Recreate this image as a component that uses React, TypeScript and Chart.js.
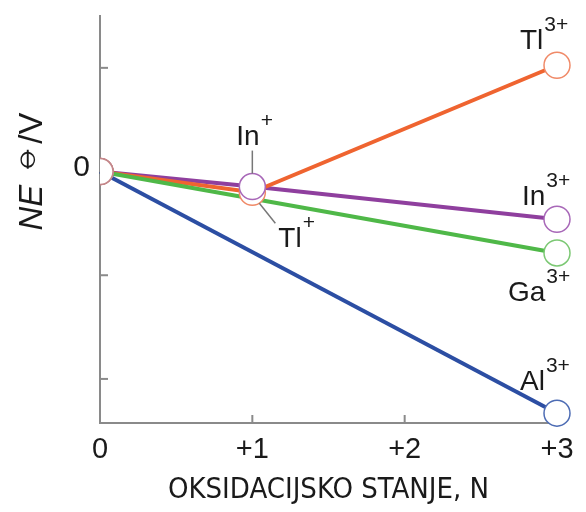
import React, { useEffect, useRef } from "react";
import { Chart, registerables } from "chart.js";

Chart.register(...registerables);

// ---- data ----
const xTickValues = [0, 1, 2, 3];
const xTickLabels = ["0", "+1", "+2", "+3"];
const xInnerTicks = [1, 2];
const yLabelTicks = [0];
const yInnerTicks = [2, -2, -4];

const alStates = [0, 3];
const alValues = [0, -4.66];
const gaStates = [0, 3];
const gaValues = [0, -1.57];
const inStates = [0, 1, 3];
const inValues = [0, -0.29, -0.92];
const tlStates = [0, 1, 3];
const tlValues = [0, -0.4, 2.05];

const seriesNames = ["Al", "Ga", "Tl", "In"];

// ---- styles ----
const AXIS_COLOR = "#8a8a8a";
const TEXT_COLOR = "#1a1a1a";
const ORIGIN_COLOR = "#c4878a";
const lineColors: Record<string, string> = {
  Al: "#2c4ea3",
  Ga: "#4fb848",
  In: "#8f3f9e",
  Tl: "#ef6430",
};
const pointColors: Record<string, string> = {
  Al: "#4d6cb4",
  Ga: "#7cc874",
  In: "#a868b8",
  Tl: "#f08a68",
};

const seriesData: Record<string, { x: number[]; y: number[] }> = {
  Al: { x: alStates, y: alValues },
  Ga: { x: gaStates, y: gaValues },
  In: { x: inStates, y: inValues },
  Tl: { x: tlStates, y: tlValues },
};

// label placement relative to the point (pixels)
const speciesLabels = [
  { series: "Tl", idx: 2, text: "Tl", sup: "3+", dx: -37, dy: -16 },
  { series: "In", idx: 2, text: "In", sup: "3+", dx: -35, dy: -14 },
  { series: "Ga", idx: 1, text: "Ga", sup: "3+", dx: -49, dy: 48 },
  { series: "Al", idx: 1, text: "Al", sup: "3+", dx: -37, dy: -23 },
  { series: "In", idx: 1, text: "In", sup: "+", dx: -16, dy: -42 },
  { series: "Tl", idx: 1, text: "Tl", sup: "+", dx: 26, dy: 55 },
];
const leaderLines = [
  { series: "In", idx: 1, x1: 0, y1: -36, x2: 0, y2: -13 },
  { series: "Tl", idx: 1, x1: 7, y1: 11, x2: 23, y2: 31 },
];

const pts = (name: string) =>
  seriesData[name].x.map((x, i) => ({ x, y: seriesData[name].y[i] }));

const annotate = {
  id: "annotate",
  afterDatasetsDraw(chart: any) {
    const ctx = chart.ctx as CanvasRenderingContext2D;
    const xs = chart.scales.x;
    const ys = chart.scales.y;
    const px = (name: string, i: number) => ({
      x: xs.getPixelForValue(seriesData[name].x[i]),
      y: ys.getPixelForValue(seriesData[name].y[i]),
    });
    ctx.save();
    // inner tick marks
    ctx.strokeStyle = AXIS_COLOR;
    ctx.lineWidth = 2;
    yInnerTicks.forEach((v) => {
      const py = ys.getPixelForValue(v);
      ctx.beginPath();
      ctx.moveTo(xs.left, py);
      ctx.lineTo(xs.left + 8, py);
      ctx.stroke();
    });
    xInnerTicks.forEach((v) => {
      const p = xs.getPixelForValue(v);
      ctx.beginPath();
      ctx.moveTo(p, ys.bottom);
      ctx.lineTo(p, ys.bottom - 8);
      ctx.stroke();
    });
    // leader lines
    ctx.strokeStyle = "#777";
    ctx.lineWidth = 1.5;
    leaderLines.forEach((l) => {
      const p = px(l.series, l.idx);
      ctx.beginPath();
      ctx.moveTo(p.x + l.x1, p.y + l.y1);
      ctx.lineTo(p.x + l.x2, p.y + l.y2);
      ctx.stroke();
    });
    // species labels
    ctx.fillStyle = TEXT_COLOR;
    ctx.textBaseline = "alphabetic";
    ctx.textAlign = "left";
    speciesLabels.forEach((l) => {
      const p = px(l.series, l.idx);
      const bx = p.x + l.dx;
      const by = p.y + l.dy;
      ctx.font = "28px 'Liberation Sans', Arial, sans-serif";
      ctx.fillText(l.text, bx, by);
      const w = ctx.measureText(l.text).width;
      ctx.font = "21px 'Liberation Sans', Arial, sans-serif";
      ctx.fillText(l.sup, bx + w + 1, by - 18);
    });
    ctx.restore();
  },
  afterDraw(chart: any) {
    const ctx = chart.ctx as CanvasRenderingContext2D;
    const ys = chart.scales.y;
    const cy = ys.getPixelForValue(0);
    ctx.save();
    ctx.translate(42, cy);
    ctx.rotate(-Math.PI / 2);
    ctx.fillStyle = TEXT_COLOR;
    ctx.textBaseline = "alphabetic";
    const f1 = "italic 33px 'Liberation Sans', Arial, sans-serif";
    const f2 = "34px 'DejaVu Sans', sans-serif";
    const f3 = "33px 'Liberation Sans', Arial, sans-serif";
    ctx.font = f1;
    const w1 = ctx.measureText("NE").width;
    ctx.font = f2;
    const w2 = ctx.measureText("\u29B5").width;
    ctx.font = f3;
    const w3 = ctx.measureText("/V").width;
    const gap = 12;
    let x = -(w1 + gap + w2 + w3) / 2;
    ctx.font = f1;
    ctx.fillText("NE", x, 0);
    x += w1 + gap;
    ctx.font = f2;
    ctx.fillText("\u29B5", x, -7);
    x += w2;
    ctx.font = f3;
    ctx.fillText("/V", x, 0);
    ctx.restore();
  },
};

export default function App() {
  const ref = useRef<HTMLCanvasElement | null>(null);
  useEffect(() => {
    if (!ref.current) return;
    const lineSets = seriesNames.map((n) => ({
      label: n,
      data: pts(n),
      borderColor: lineColors[n],
      borderWidth: 4,
      pointRadius: 0,
      showLine: true,
      fill: false,
      order: 10,
      clip: false as any,
    }));
    const pointSets = seriesNames.map((n, k) => ({
      label: n + " points",
      data: pts(n),
      showLine: false,
      pointRadius: 13,
      pointHoverRadius: 13,
      pointBorderWidth: 1.5,
      pointBackgroundColor: "#ffffff",
      pointBorderColor: pts(n).map((_, i) => (i === 0 ? ORIGIN_COLOR : pointColors[n])),
      order: 4 - k,
      clip: { left: 0, top: 30, right: 30, bottom: 30 } as any,
    }));
    const chart = new Chart(ref.current, {
      type: "line",
      data: { datasets: [...lineSets, ...pointSets] as any },
      options: {
        animation: false,
        responsive: false,
        layout: { padding: { left: 0, top: 16, right: 29, bottom: 0 } },
        plugins: { legend: { display: false }, tooltip: { enabled: false } },
        scales: {
          x: {
            type: "linear",
            min: 0,
            max: 3,
            grid: { display: false, drawTicks: false },
            border: { display: true, color: AXIS_COLOR, width: 2 },
            afterBuildTicks: (s: any) => {
              s.ticks = xTickValues.map((v) => ({ value: v }));
            },
            afterFit: (s: any) => {
              s.height = 89;
              s.paddingLeft = 0;
              s.paddingRight = 0;
            },
            ticks: {
              padding: 10,
              color: TEXT_COLOR,
              font: { family: "'Liberation Sans', Arial, sans-serif", size: 29 },
              maxRotation: 0,
              autoSkip: false,
              callback: (v: any) => xTickLabels[xTickValues.indexOf(Number(v))] ?? "",
            },
            title: {
              display: true,
              text: "OKSIDACIJSKO STANJE, N",
              color: TEXT_COLOR,
              font: { family: "'DejaVu Sans Condensed', 'DejaVu Sans', sans-serif", size: 29 },
              padding: { top: 0, bottom: 4 },
            },
          },
          y: {
            type: "linear",
            min: -4.85,
            max: 3.0,
            grid: { display: false, drawTicks: false },
            border: { display: true, color: AXIS_COLOR, width: 2 },
            afterBuildTicks: (s: any) => {
              s.ticks = yLabelTicks.map((v) => ({ value: v }));
            },
            afterFit: (s: any) => {
              s.width = 100;
              s.paddingTop = 0;
              s.paddingBottom = 0;
            },
            ticks: {
              padding: 10,
              color: TEXT_COLOR,
              labelOffset: -4,
              font: { family: "'Liberation Sans', Arial, sans-serif", size: 30 },
              callback: (v: any) => String(v),
            },
          },
        },
      },
      plugins: [annotate],
    });
    return () => chart.destroy();
  }, []);
  return (
    <div style={{ position: "absolute", left: 0, top: 0, width: 586, height: 512, background: "#fff" }}>
      <canvas ref={ref} width={586} height={512} style={{ display: "block" }} />
    </div>
  );
}
